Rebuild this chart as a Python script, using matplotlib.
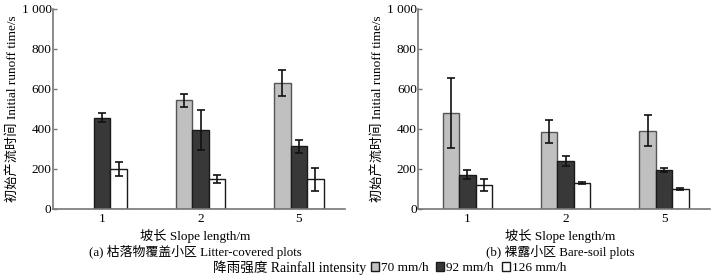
import matplotlib.pyplot as plt
from matplotlib.patches import Patch
import numpy as np

plt.rcParams['font.family'] = ['Liberation Serif', 'Noto Sans CJK SC']

slopes = ['1', '2', '5']
intensities = ['70 mm/h', '92 mm/h', '126 mm/h']
colors = ['#c0c0c0', '#383838', '#ffffff']
edges = ['#555555', '#1a1a1a', '#1a1a1a']

# litter-covered plots (no 70 mm/h bar at 1 m)
litter_mean = [[np.nan, 542, 628], [455, 395, 313], [200, 152, 148]]
litter_err = [[0, 32, 65], [23, 100, 33], [35, 20, 58]]
# bare-soil plots
bare_mean = [[480, 386, 390], [172, 240, 196], [121, 130, 100]]
bare_err = [[174, 58, 77], [24, 27, 10], [31, 5, 7]]

fig = plt.figure(figsize=(7.16, 2.76), dpi=100)
ax1 = fig.add_axes([0.074, 0.243, 0.408, 0.725])
ax2 = fig.add_axes([0.584, 0.243, 0.408, 0.725])

w = 0.167
x = np.arange(len(slopes))
panels = [(ax1, litter_mean, litter_err, '(a) 枯落物覆盖小区 Litter-covered plots'),
          (ax2, bare_mean, bare_err, '(b) 裸露小区 Bare-soil plots')]
for ax, mean, err, cap in panels:
    for i in range(3):
        m = np.array(mean[i], dtype=float)
        e = np.array(err[i], dtype=float)
        e[np.isnan(m)] = np.nan
        ax.bar(x + (i - 1) * w, m, w, color=colors[i], edgecolor=edges[i], linewidth=1.0,
               yerr=e, capsize=3, error_kw=dict(elinewidth=1.2, capthick=1.2, ecolor='#111111'))
    ax.set_xlim(-0.5, 2.47)
    ax.set_ylim(0, 1000)
    ax.set_yticks([0, 200, 400, 600, 800, 1000])
    ax.set_yticklabels(['0', '200', '400', '600', '800', '1 000'])
    ax.set_xticks(x)
    ax.set_xticklabels(slopes)
    ax.tick_params(axis='y', direction='in', length=3, width=1, color='#777777', labelsize=9.5, pad=1)
    ax.tick_params(axis='x', length=0, labelsize=9.5, pad=3)
    for s in ['top', 'right']:
        ax.spines[s].set_visible(False)
    for s in ['left', 'bottom']:
        ax.spines[s].set_color('#777777')
        ax.spines[s].set_linewidth(1.2)
    ax.set_ylabel('初始产流时间 Initial runoff time/s', fontsize=9.5, labelpad=2)
    pos = ax.get_position()
    xc = (pos.x0 + pos.x1) / 2 - 0.005
    fig.text(xc, 0.145, '坡长 Slope length/m', ha='center', va='center', fontsize=9.5)
    fig.text(xc, 0.087, cap, ha='center', va='center', fontsize=9.3)

fig.text(366 / 716, 0.029, '降雨强度 Rainfall intensity', ha='right', va='center', fontsize=9.8)
handles = [Patch(facecolor=colors[i], edgecolor='#1a1a1a', linewidth=1.0) for i in range(3)]
fig.legend(handles, intensities, loc='center left', bbox_to_anchor=(371 / 716, 0.029), ncol=3,
           frameon=False, fontsize=9.5, handlelength=0.6, handleheight=0.6,
           handletextpad=0.15, columnspacing=0.6, borderpad=0, borderaxespad=0)

fig.savefig('out.png', dpi=100)
